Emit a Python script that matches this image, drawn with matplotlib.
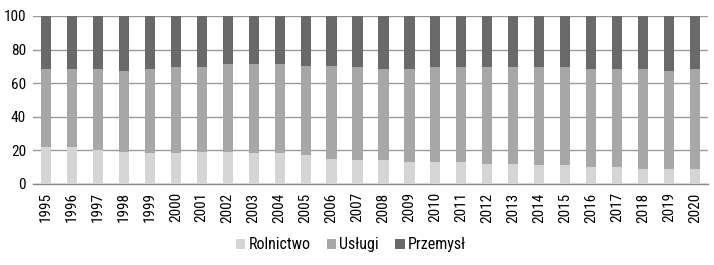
import numpy as np
import matplotlib.pyplot as plt

# ---- data (percent share of employment) ----
years = [str(y) for y in range(1995, 2021)]
rolnictwo = [22.2, 22.2, 20.2, 19.0, 18.2, 18.2, 19.0, 19.0, 18.2, 18.2, 17.2, 15.0, 14.3,
             14.3, 13.0, 13.0, 13.0, 12.0, 12.0, 11.5, 11.5, 10.3, 10.3, 9.1, 9.1, 9.1]
top_uslugi = [68.5, 68.5, 68.5, 67.5, 68.5, 69.5, 69.5, 71.5, 71.5, 71.5, 70.5, 70.5, 69.5,
              68.5, 68.5, 69.5, 69.5, 69.5, 69.5, 69.5, 69.5, 68.5, 68.5, 68.5, 67.5, 68.5]
uslugi = [round(t - r, 1) for t, r in zip(top_uslugi, rolnictwo)]
przemysl = [round(100 - t, 1) for t in top_uslugi]

labels = ["Rolnictwo", "Usługi", "Przemysł"]
colors = ["#d5d5d7", "#a7a7aa", "#69696b"]

plt.rcParams['font.family'] = ['Roboto Condensed', 'Liberation Sans', 'DejaVu Sans']

fig = plt.figure(figsize=(7.14, 2.65), dpi=100)
ax = fig.add_axes([0.0462, 0.3057, 0.9454, 0.634])

x = np.arange(len(years))
w = 0.39
ax.bar(x, rolnictwo, w, color=colors[0], label=labels[0], zorder=3)
ax.bar(x, uslugi, w, bottom=rolnictwo, color=colors[1], label=labels[1], zorder=3)
ax.bar(x, przemysl, w, bottom=np.add(rolnictwo, uslugi), color=colors[2],
       label=labels[2], zorder=3)

ax.set_xlim(-0.5, len(years) - 0.5)
ax.set_ylim(0, 100)
ax.set_yticks(range(0, 101, 20))
ax.set_xticks(x)
ax.set_xticklabels(years, rotation=90, fontsize=11)
ax.tick_params(axis='y', labelsize=11, length=0, pad=5)
ax.tick_params(axis='x', length=0, pad=6)

ax.grid(axis='y', color='#9a9a9a', linewidth=1, zorder=0)
for s in ['top', 'right', 'left']:
    ax.spines[s].set_visible(False)
ax.spines['bottom'].set_color('#8a8a8a')
ax.spines['bottom'].set_linewidth(1)

ax.legend(loc='center', bbox_to_anchor=(0.471, -0.363), ncol=3, frameon=False,
          fontsize=11.5, handlelength=0.6, handleheight=0.6, handletextpad=0.2,
          columnspacing=1.0)

fig.savefig("out.png", dpi=100)
